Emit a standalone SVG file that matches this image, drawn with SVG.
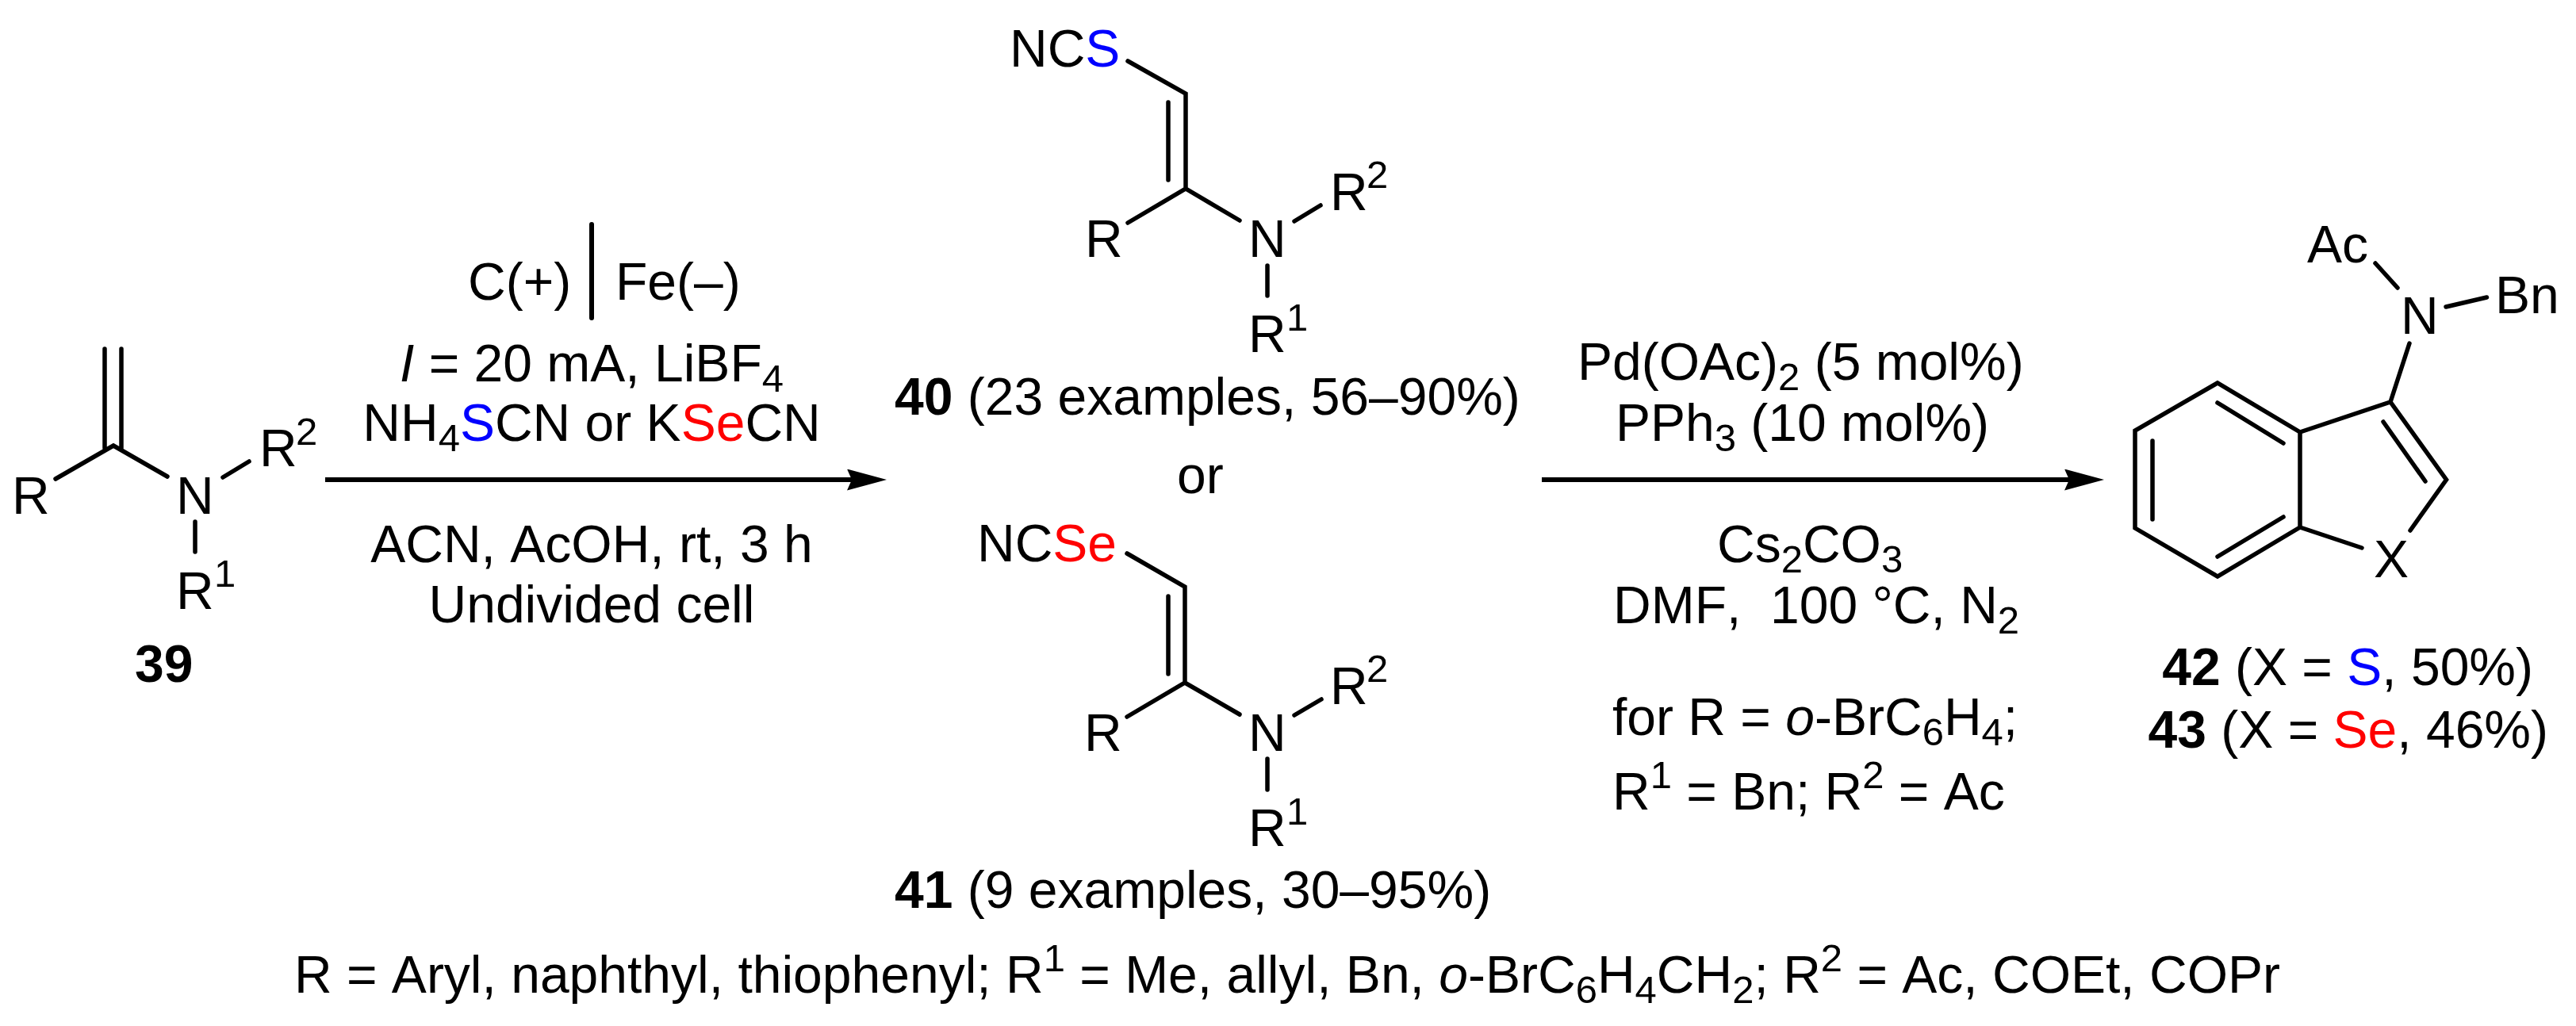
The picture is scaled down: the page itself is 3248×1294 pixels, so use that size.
<svg xmlns="http://www.w3.org/2000/svg" width="3248" height="1294" viewBox="0 0 3248 1294">
<style>
text{font-family:"Liberation Sans",Arial,sans-serif;font-size:66px;fill:#000;white-space:pre;font-kerning:none}
.m{text-anchor:middle}.e{text-anchor:end}
.b{font-weight:bold}.i{font-style:italic}
.s{font-size:49px}
.bl{fill:#00f}.rd{fill:#f00}
.bond{fill:none;stroke:#000;stroke-width:5.5;stroke-linecap:round;stroke-linejoin:miter}
.arrow{fill:none;stroke:#000;stroke-width:6}
</style>
<defs>
<marker id="head" markerUnits="userSpaceOnUse" markerWidth="50" markerHeight="27" refX="6" refY="13.5" orient="auto"><path d="M0 0L50 13.5L0 27L6 13.5Z" fill="#000"/></marker>
</defs>
<rect width="3248" height="1294" fill="#fff"/>
<g id="connectors">
<line class="arrow" x1="410" y1="605" x2="1074" y2="605" marker-end="url(#head)"/>
<line class="arrow" x1="1944" y1="605" x2="2609" y2="605" marker-end="url(#head)"/>
</g>
<g id="node-39">
<path class="bond" d="M132 440V565M153 440V565M70 604L143 562L211 601M281 602L314 582M246 658V696"/>
<text x="15" y="648">R</text><text x="222" y="648">N</text>
<text x="327" y="588">R</text><text class="s" x="373" y="561">2</text>
<text x="222" y="768">R</text><text class="s" x="270" y="740">1</text>
<text class="b" x="170" y="860">39</text>
</g>
<g id="conditions-1">
<text x="590" y="378">C(+)</text><text x="776" y="378">Fe(–)</text>
<line x1="746" y1="283" x2="746" y2="401" class="arrow" stroke-linecap="round"/>
<text class="m" x="746" y="481"><tspan class="i">I</tspan> = 20 mA, LiBF<tspan class="s" dy="13">4</tspan></text>
<text class="m" x="746" y="556">NH<tspan class="s" dy="13">4</tspan><tspan class="bl" dy="-13">S</tspan>CN or K<tspan class="rd">Se</tspan>CN</text>
<text class="m" x="746" y="709">ACN, AcOH, rt, 3 h</text>
<text class="m" x="746" y="785">Undivided cell</text>
</g>
<g id="node-40">
<path class="bond" d="M1422 77L1495 118V238M1473 129V227M1422 281L1495 238L1563 278M1632 279L1665 259M1598 335V373"/>
<text x="1273" y="84">NC<tspan class="bl">S</tspan></text>
<text x="1368" y="324">R</text><text x="1574" y="324">N</text>
<text x="1677" y="265">R</text><text class="s" x="1723" y="237">2</text>
<text x="1574" y="444">R</text><text class="s" x="1622" y="417">1</text>
<text x="1128" y="523"><tspan class="b">40</tspan> (23 examples, 56–90%)</text>
</g>
<text id="or" x="1484" y="622">or</text>
<g id="node-41">
<path class="bond" d="M1421 698L1494 740V861M1473 752V850M1421 904L1494 861L1563 901M1632 902L1666 882M1598 957V996"/>
<text x="1232" y="708">NC<tspan class="rd">Se</tspan></text>
<text x="1367" y="947">R</text><text x="1574" y="947">N</text>
<text x="1677" y="888">R</text><text class="s" x="1723" y="860">2</text>
<text x="1574" y="1067">R</text><text class="s" x="1622" y="1040">1</text>
<text x="1128" y="1145"><tspan class="b">41</tspan> (9 examples, 30–95%)</text>
</g>
<g id="conditions-2">
<text x="1989" y="479">Pd(OAc)<tspan class="s" dy="13">2</tspan><tspan dy="-13"> (5 mol%)</tspan></text>
<text x="2037" y="556">PPh<tspan class="s" dy="13">3</tspan><tspan dy="-13"> (10 mol%)</tspan></text>
<text x="2165" y="709">Cs<tspan class="s" dy="13">2</tspan><tspan dy="-13">CO</tspan><tspan class="s" dy="13">3</tspan></text>
<text x="2034" y="786">DMF,  100 °C, N<tspan class="s" dy="13">2</tspan></text>
<text x="2033" y="927">for R = <tspan class="i">o</tspan>-BrC<tspan class="s" dy="13">6</tspan><tspan dy="-13">H</tspan><tspan class="s" dy="13">4</tspan><tspan dy="-13">;</tspan></text>
<text x="2033" y="1021">R<tspan class="s" dy="-27">1</tspan><tspan dy="27"> = Bn; R</tspan><tspan class="s" dy="-27">2</tspan><tspan dy="27"> = Ac</tspan></text>
</g>
<g id="node-42-43">
<path class="bond" d="M2796 483L2692 543V666L2796 727L2900 665V545ZM2796 508L2879 559M2714 556V655M2796 702L2879 652M2900 545L3014 507L3084.5 605L3039 669M2900 665L2978 691M3005 532L3058 607M3014 507L3038 433M2995 332L3023 363M3084 387L3135.5 375"/>
<text x="2909" y="331">Ac</text><text x="3027" y="421">N</text><text x="3146" y="395">Bn</text><text x="2993" y="728">X</text>
<text class="e" x="3194" y="864"><tspan class="b">42</tspan> (X = <tspan class="bl">S</tspan>, 50%)</text>
<text class="e" x="3213" y="943"><tspan class="b">43</tspan> (X = <tspan class="rd">Se</tspan>, 46%)</text>
</g>
<text id="footnote" class="m" x="1623" y="1252">R = Aryl, naphthyl, thiophenyl; R<tspan class="s" dy="-27">1</tspan><tspan dy="27"> = Me, allyl, Bn, </tspan><tspan class="i">o</tspan>-BrC<tspan class="s" dy="13">6</tspan><tspan dy="-13">H</tspan><tspan class="s" dy="13">4</tspan><tspan dy="-13">CH</tspan><tspan class="s" dy="13">2</tspan><tspan dy="-13">; R</tspan><tspan class="s" dy="-27">2</tspan><tspan dy="27"> = Ac, COEt, COPr</tspan></text>
</svg>
